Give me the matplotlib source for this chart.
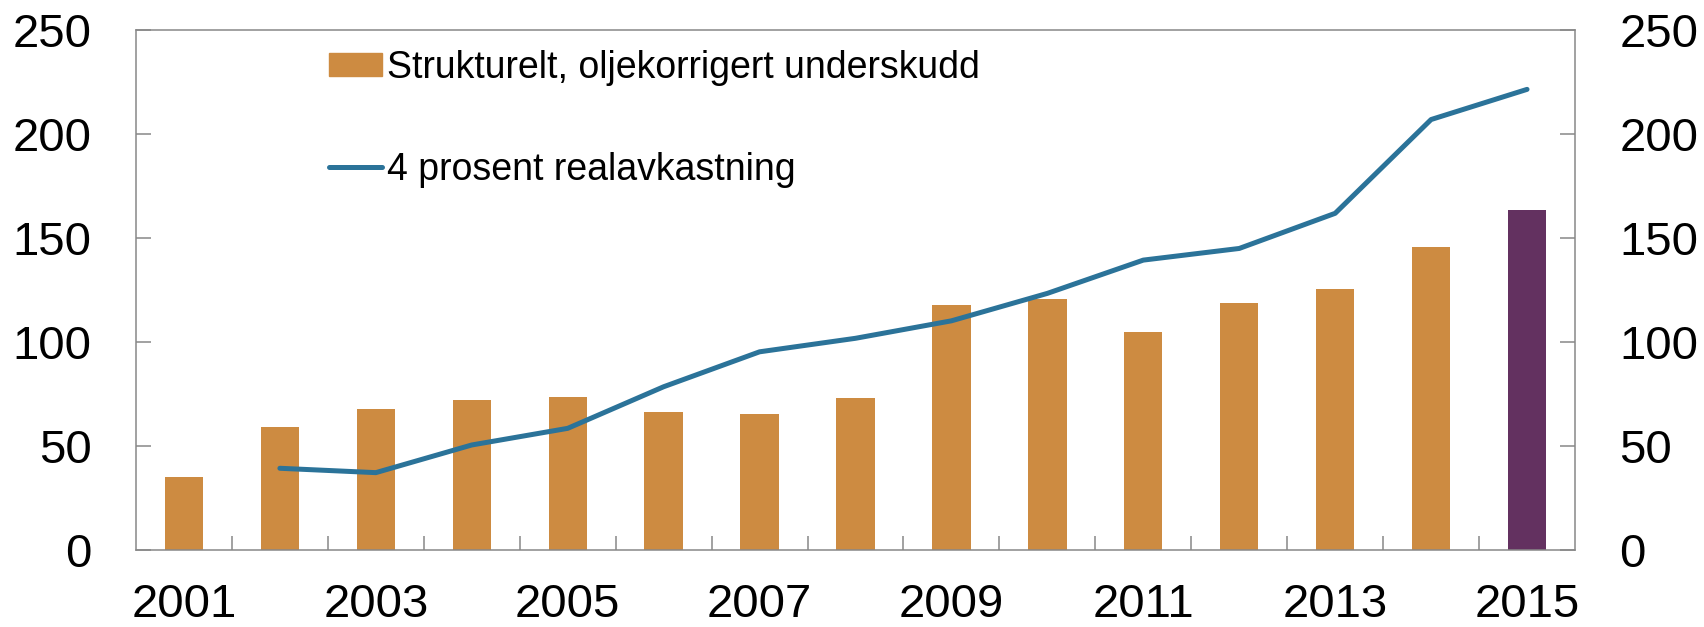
import matplotlib
matplotlib.use("Agg")
import matplotlib.pyplot as plt
from matplotlib.patches import Patch
from matplotlib.lines import Line2D

plt.rcParams["font.family"] = ["Liberation Sans", "DejaVu Sans"]

years = list(range(2001, 2016))
underskudd = [35, 59.3, 67.8, 72.3, 73.6, 66.3, 65.2, 73.1, 117.6, 120.5, 105, 118.6, 125.5, 145.8, 163.5]
real_years = list(range(2002, 2016))
realavkastning = [39.3, 37.2, 50.5, 58.5, 78.5, 95.3, 101.8, 110.2, 123.4, 139.4, 145, 161.9, 207, 221.5]
xticks = [2001, 2003, 2005, 2007, 2009, 2011, 2013, 2015]
yticks = [0, 50, 100, 150, 200, 250]

BAR, LAST, LINE, SPINE = "#CD8B41", "#633160", "#2B7399", "#888888"

fig = plt.figure(figsize=(17.04, 6.27), dpi=100)
ax = fig.add_axes([0.0798, 0.1228, 0.9243 - 0.0798, 0.952 - 0.1228])

colors = [BAR] * (len(years) - 1) + [LAST]
ax.bar(years, underskudd, width=0.4, color=colors, zorder=2)
ax.plot(real_years, realavkastning, color=LINE, lw=3.6, solid_capstyle="round", zorder=3)

ax.set_xlim(2000.5, 2015.5)
ax.set_ylim(0, 250)
ax.set_yticks(yticks)
ax.set_xticks(xticks)
ax.set_xticks([y + 0.5 for y in years[:-1]], minor=True)

for s in ax.spines.values():
    s.set_color(SPINE); s.set_linewidth(1.1)
ax.tick_params(axis="y", direction="in", length=10.5, width=1.1, color=SPINE,
               left=True, right=True, labelleft=True, labelright=True,
               labelsize=34, pad=32)
ax.tick_params(axis="x", which="major", length=0, labelsize=34, pad=24)
ax.tick_params(axis="x", which="minor", direction="in", length=10, width=1.1, color=SPINE)

handles = [Patch(color=BAR), Line2D([], [], color=LINE, lw=3.6, solid_capstyle="round")]
labels = ["Strukturelt, oljekorrigert underskudd", "4 prosent realavkastning"]
fig.legend(handles, labels, loc="upper left", bbox_to_anchor=(329 / 1704, 1 - 50 / 627),
           frameon=False, fontsize=27, handlelength=1.4, handleheight=0.55,
           handletextpad=0.15, labelspacing=1.75, borderpad=0, borderaxespad=0)

fig.savefig("out.png", dpi=100)
